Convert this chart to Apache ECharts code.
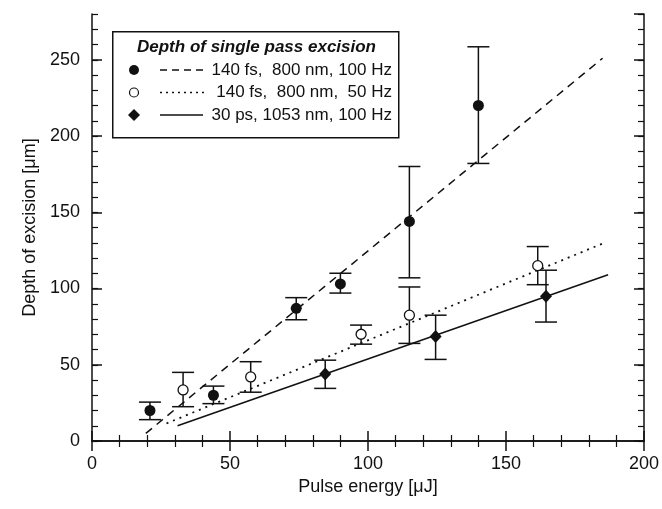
<!DOCTYPE html>
<html>
<head>
<meta charset="utf-8">
<script src="https://cdn.jsdelivr.net/npm/echarts@6/dist/echarts.min.js"></script>
<style>
  html, body { margin: 0; padding: 0; background: #fff; }
  #chart { width: 662px; height: 509px; }
</style>
</head>
<body>
<div id="chart"></div>
<script>
// 140 fs, 800 nm, 100 Hz (filled circles)
const fs100X = [21, 44, 74, 90, 115, 140]
const fs100Y = [20, 30, 87, 103, 144, 220]
const fs100Lo = [14, 24.5, 79.5, 97, 107, 182]
const fs100Hi = [25.5, 36, 94, 110, 180, 258.5]

// 140 fs, 800 nm, 50 Hz (open circles)
const fs50X = [33, 57.5, 97.5, 115, 161.5]
const fs50Y = [33.5, 42, 70, 82.5, 115]
const fs50Lo = [22.5, 32, 63.5, 64, 102.5]
const fs50Hi = [45, 52, 76, 101, 127.5]

// 30 ps, 1053 nm, 100 Hz (diamonds)
const ps30X = [84.5, 124.5, 164.5]
const ps30Y = [44, 68.5, 95]
const ps30Lo = [34.5, 53.5, 78]
const ps30Hi = [53, 82.5, 112]

// linear fits (end points)
const dashX = [19.5, 185]
const dashY = [5, 251]
const dotX = [27, 185]
const dotY = [11.5, 129.5]
const solidX = [31, 187]
const solidY = [10, 109]

const legendTitle = 'Depth of single pass excision'
const legendNames = ['140 fs,  800 nm, 100 Hz', '140 fs,  800 nm,  50 Hz', '30 ps, 1053 nm, 100 Hz']

const FONT = "'Liberation Sans', Arial, sans-serif"
const INK = '#111'

const zip = (xs, ys) => xs.map((x, i) => [x, ys[i]])
const zipErr = (xs, lo, hi) => xs.map((x, i) => [x, lo[i], hi[i]])

// error bars with caps
const errRender = (params, api) => {
  const lo = api.coord([api.value(0), api.value(1)])
  const hi = api.coord([api.value(0), api.value(2)])
  const w = 11
  const style = { stroke: INK, lineWidth: 1.5, fill: null }
  return {
    type: 'group',
    children: [
      { type: 'line', shape: { x1: lo[0], y1: lo[1], x2: hi[0], y2: hi[1] }, style },
      { type: 'line', shape: { x1: lo[0] - w, y1: lo[1], x2: lo[0] + w, y2: lo[1] }, style },
      { type: 'line', shape: { x1: hi[0] - w, y1: hi[1], x2: hi[0] + w, y2: hi[1] }, style },
    ],
  }
}

const axisLine = { show: true, lineStyle: { color: INK, width: 1.5 } }

const majorY = (pos, labels) => ({
  type: 'value',
  position: pos,
  min: 0,
  max: 280,
  interval: 50,
  axisLine,
  axisTick: { show: true, inside: true, length: 10, lineStyle: { color: INK, width: 1.5 } },
  axisLabel: {
    show: labels,
    showMaxLabel: false,
    fontSize: 18,
    color: INK,
    fontFamily: FONT,
    margin: 12,
  },
  splitLine: { show: false },
})
const minorY = (pos) => ({
  type: 'value',
  position: pos,
  min: 0,
  max: 280,
  interval: 10,
  axisLine: { show: false },
  axisTick: { show: true, inside: true, length: 6, lineStyle: { color: INK, width: 1.2 } },
  axisLabel: { show: false },
  splitLine: { show: false },
})
const xAx = (pos, labels) => ({
  type: 'value',
  position: pos,
  min: 0,
  max: 200,
  interval: 50,
  axisLine,
  axisTick: { show: true, inside: true, length: 10, lineStyle: { color: INK, width: 1.5 } },
  minorTick: { show: true, splitNumber: 5, length: 6, lineStyle: { color: INK, width: 1.2 } },
  axisLabel: { show: labels, fontSize: 18, color: INK, fontFamily: FONT, margin: 14 },
  splitLine: { show: false },
  minorSplitLine: { show: false },
})

const chart = echarts.init(document.getElementById('chart'))

const lx = 134, ly = [70, 92.5, 115]
const legendGraphic = [
  { type: 'rect', left: 112, top: 31, shape: { width: 286, height: 106 }, style: { fill: '#fff', stroke: INK, lineWidth: 1.5 }, z: 10 },
  { type: 'text', x: 137, y: 47, style: { text: legendTitle, font: `italic bold 17px ${FONT}`, fill: INK, textVerticalAlign: 'middle' }, z: 11 },
  { type: 'circle', shape: { cx: lx, cy: ly[0], r: 5 }, style: { fill: INK }, z: 11 },
  { type: 'circle', shape: { cx: lx, cy: ly[1], r: 4.5 }, style: { fill: '#fff', stroke: INK, lineWidth: 1.2 }, z: 11 },
  { type: 'polygon', shape: { points: [[lx, ly[2] - 6], [lx + 6, ly[2]], [lx, ly[2] + 6], [lx - 6, ly[2]]] }, style: { fill: INK }, z: 11 },
  { type: 'line', shape: { x1: 160, y1: ly[0], x2: 205, y2: ly[0] }, style: { stroke: INK, lineWidth: 1.5, lineDash: [7, 5] }, z: 11 },
  { type: 'line', shape: { x1: 160, y1: ly[1], x2: 205, y2: ly[1] }, style: { stroke: INK, lineWidth: 1.5, lineDash: [2, 4] }, z: 11 },
  { type: 'line', shape: { x1: 160, y1: ly[2], x2: 203, y2: ly[2] }, style: { stroke: INK, lineWidth: 1.5 }, z: 11 },
].concat(legendNames.map((t, i) => ({
  type: 'text', x: 392, y: ly[i], z: 11,
  style: { text: t, font: `17px ${FONT}`, fill: INK, textAlign: 'right', textVerticalAlign: 'middle' },
})))

chart.setOption({
  backgroundColor: '#fff',
  animation: false,
  grid: { left: 92, right: 16, top: 14, bottom: 68, containLabel: false },
  xAxis: [
    Object.assign(xAx('bottom', true), {
      name: 'Pulse energy [μJ]',
      nameLocation: 'middle',
      nameGap: 36,
      nameTextStyle: { fontSize: 18, color: INK, fontFamily: FONT },
    }),
    xAx('top', false),
  ],
  yAxis: [
    Object.assign(majorY('left', true), {
      name: 'Depth of excision [μm]',
      nameLocation: 'middle',
      nameGap: 50,
      nameTextStyle: { fontSize: 18, color: INK, fontFamily: FONT, padding: [0, 0, 0, 0] },
    }),
    minorY('left'),
    majorY('right', false),
    minorY('right'),
  ],
  graphic: legendGraphic,
  series: [
    { type: 'line', data: zip(dashX, dashY), showSymbol: false, lineStyle: { color: INK, width: 1.5, type: [8, 6] }, z: 2 },
    { type: 'line', data: zip(dotX, dotY), showSymbol: false, lineStyle: { color: INK, width: 1.8, type: [2, 5] }, z: 2 },
    { type: 'line', data: zip(solidX, solidY), showSymbol: false, lineStyle: { color: INK, width: 1.5 }, z: 2 },
    { type: 'custom', data: zipErr(fs100X, fs100Lo, fs100Hi), renderItem: errRender, z: 3 },
    { type: 'custom', data: zipErr(fs50X, fs50Lo, fs50Hi), renderItem: errRender, z: 3 },
    { type: 'custom', data: zipErr(ps30X, ps30Lo, ps30Hi), renderItem: errRender, z: 3 },
    { type: 'scatter', data: zip(fs100X, fs100Y), symbol: 'circle', symbolSize: 11, itemStyle: { color: INK, opacity: 1 }, z: 4 },
    { type: 'scatter', data: zip(fs50X, fs50Y), symbol: 'circle', symbolSize: 10, itemStyle: { color: '#fff', borderColor: INK, borderWidth: 1.3, opacity: 1 }, z: 4 },
    { type: 'scatter', data: zip(ps30X, ps30Y), symbol: 'diamond', symbolSize: [12, 13], itemStyle: { color: INK, opacity: 1 }, z: 4 },
  ],
})
</script>
</body>
</html>
